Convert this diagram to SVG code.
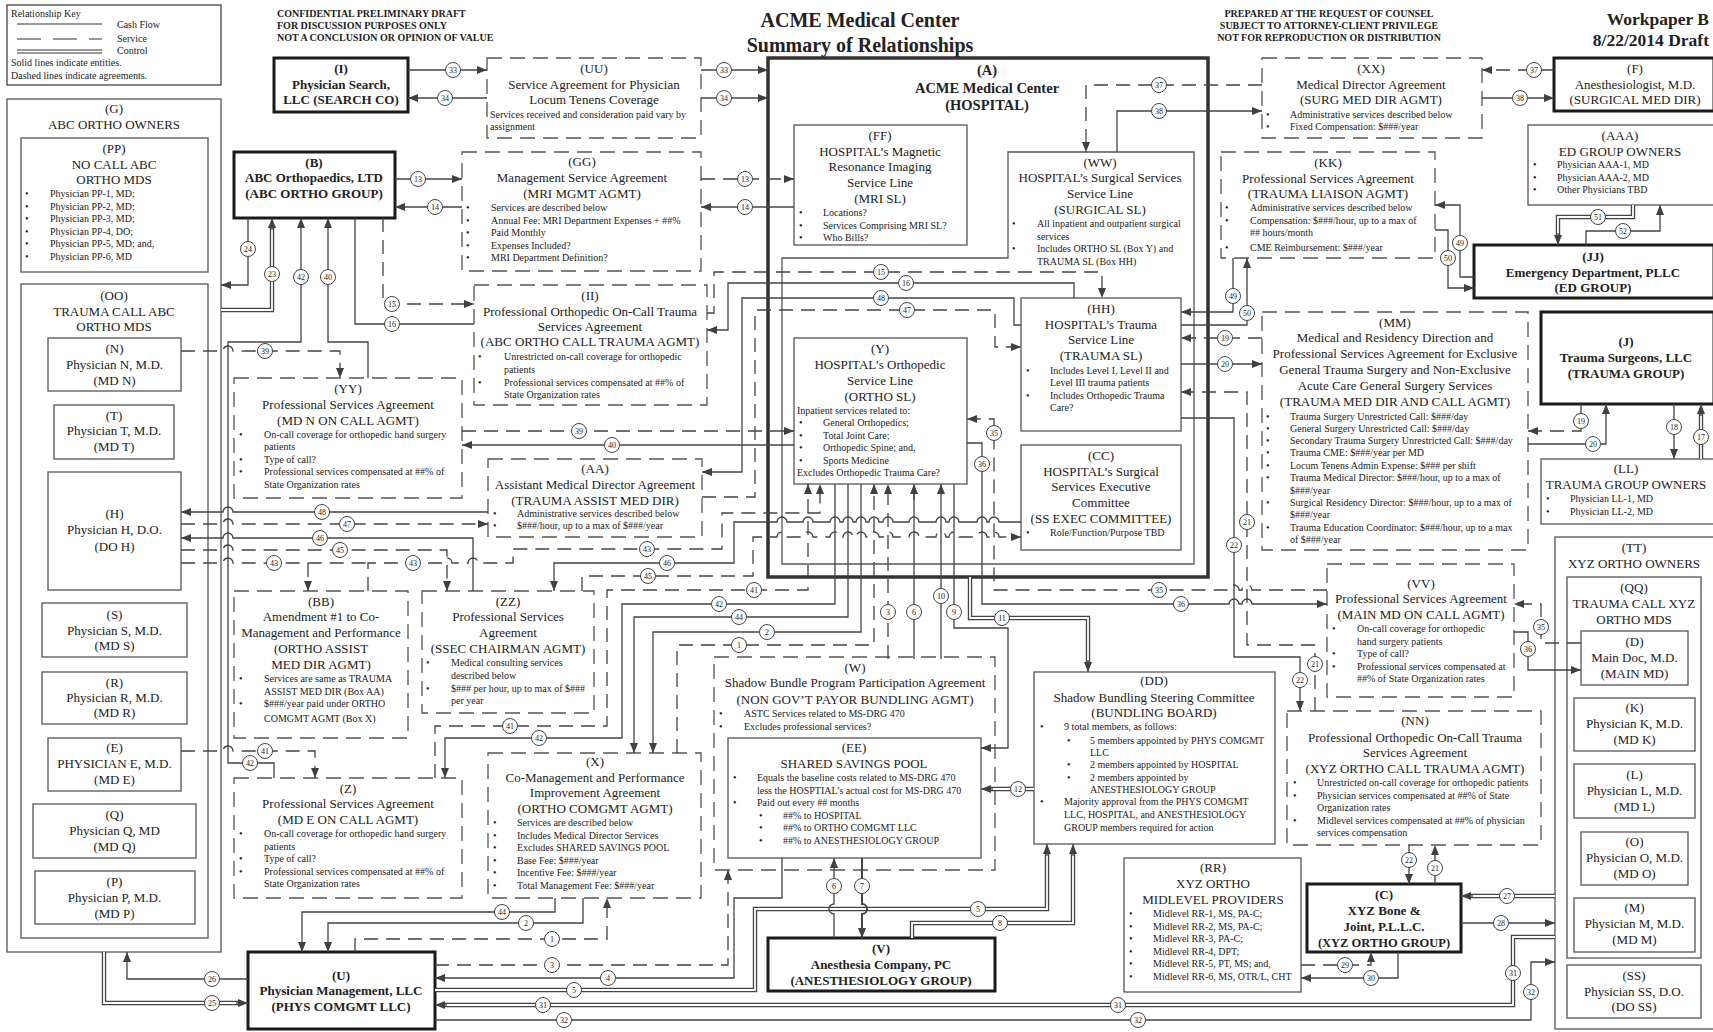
<svg xmlns="http://www.w3.org/2000/svg" width="1713" height="1032" viewBox="0 0 1713 1032">
<style>
text{font-family:"Liberation Serif","Times New Roman",serif;fill:#222}
.t{font-size:13px;text-anchor:middle}
.tb{font-size:13px;font-weight:bold;text-anchor:middle}
.b{font-size:10px}
.h{font-size:10px;font-weight:bold}
.n{fill:#fff;stroke:#555;stroke-width:1.3}
.dn{fill:#fff;stroke:#555;stroke-width:1.3;stroke-dasharray:15 8}
.en{fill:#fff;stroke:#1a1a1a;stroke-width:3}
.s{fill:none;stroke:#444;stroke-width:1.3}
.d{fill:none;stroke:#444;stroke-width:1.3;stroke-dasharray:14 8}
.c{fill:none;stroke:#444;stroke-width:4.4}
.ci{fill:none;stroke:#fff;stroke-width:1.8}
.a{marker-end:url(#ar)}
.lc{fill:#fff;stroke:#444;stroke-width:1}
.ln{font-size:8px;text-anchor:middle}
</style>
<defs>
<marker id="ar" markerWidth="10" markerHeight="8" refX="10" refY="4" orient="auto" markerUnits="userSpaceOnUse"><path d="M0,0 L10,4 L0,8 z" fill="#404040"/></marker>
</defs>
<rect x="0" y="0" width="1713" height="1032" fill="#fff"/>

<g id="key">
<rect x="7" y="5" width="214" height="80" fill="#fff" stroke="#333" stroke-width="1.2"/>
<text class="b" x="11" y="17">Relationship Key</text>
<line x1="17" y1="24" x2="102" y2="24" stroke="#333" stroke-width="1"/>
<line x1="17" y1="39" x2="102" y2="39" stroke="#333" stroke-width="1" stroke-dasharray="24 12"/>
<line x1="17" y1="50" x2="102" y2="50" stroke="#333" stroke-width="1"/>
<line x1="17" y1="53" x2="102" y2="53" stroke="#333" stroke-width="1"/>
<text class="b" x="117" y="28">Cash Flow</text>
<text class="b" x="117" y="42">Service</text>
<text class="b" x="117" y="54">Control</text>
<text class="b" x="11" y="66">Solid lines indicate entities.</text>
<text class="b" x="11" y="79">Dashed lines indicate agreements.</text>
</g>

<g id="header">
<text class="h" x="277" y="17">CONFIDENTIAL PRELIMINARY DRAFT</text>
<text class="h" x="277" y="29">FOR DISCUSSION PURPOSES ONLY</text>
<text class="h" x="277" y="41">NOT A CONCLUSION OR OPINION OF VALUE</text>
<text x="860" y="27" style="font-size:20px;font-weight:bold;text-anchor:middle">ACME Medical Center</text>
<text x="860" y="52" style="font-size:20px;font-weight:bold;text-anchor:middle">Summary of Relationships</text>
<text class="h" x="1329" y="17" text-anchor="middle">PREPARED AT THE REQUEST OF COUNSEL</text>
<text class="h" x="1329" y="29" text-anchor="middle">SUBJECT TO ATTORNEY-CLIENT PRIVILEGE</text>
<text class="h" x="1329" y="41" text-anchor="middle">NOT FOR REPRODUCTION OR DISTRIBUTION</text>
<text x="1709" y="25" style="font-size:17.5px;font-weight:bold;text-anchor:end">Workpaper B</text>
<text x="1709" y="46" style="font-size:17.5px;font-weight:bold;text-anchor:end">8/22/2014 Draft</text>
</g>

<g id="node-G"><rect class="n" x="7" y="99" width="214" height="853"/>
<text class="t" x="114" y="113">(G)</text><text class="t" x="114" y="129">ABC ORTHO OWNERS</text></g>
<g id="node-PP"><rect class="n" x="21" y="138" width="187" height="134"/>
<text class="t" x="114" y="153">(PP)</text><text class="t" x="114" y="169">NO CALL ABC</text><text class="t" x="114" y="184">ORTHO MDS</text>
<text class="b" x="25" y="197">•</text><text class="b" x="50" y="197">Physician PP-1, MD;</text>
<text class="b" x="25" y="209.5">•</text><text class="b" x="50" y="209.5">Physician PP-2, MD;</text>
<text class="b" x="25" y="222">•</text><text class="b" x="50" y="222">Physician PP-3, MD;</text>
<text class="b" x="25" y="234.5">•</text><text class="b" x="50" y="234.5">Physician PP-4, DO;</text>
<text class="b" x="25" y="247">•</text><text class="b" x="50" y="247">Physician PP-5, MD; and,</text>
<text class="b" x="25" y="259.5">•</text><text class="b" x="50" y="259.5">Physician PP-6, MD</text></g>
<g id="node-OO"><rect class="n" x="21" y="284" width="187" height="654"/>
<text class="t" x="114" y="300">(OO)</text><text class="t" x="114" y="316">TRAUMA CALL ABC</text><text class="t" x="114" y="331">ORTHO MDS</text></g>
<g id="node-N"><rect class="n" x="48" y="338" width="133" height="53"/>
<text class="t" x="114.5" y="353">(N)</text><text class="t" x="114.5" y="369">Physician N, M.D.</text><text class="t" x="114.5" y="385">(MD N)</text></g>
<g id="node-T"><rect class="n" x="54" y="405" width="120" height="54"/>
<text class="t" x="114" y="420">(T)</text><text class="t" x="114" y="435">Physician T, M.D.</text><text class="t" x="114" y="451">(MD T)</text></g>
<g id="node-H"><rect class="n" x="48" y="472" width="133" height="118"/>
<text class="t" x="114.5" y="518">(H)</text><text class="t" x="114.5" y="534">Physician H, D.O.</text><text class="t" x="114.5" y="551">(DO H)</text></g>
<g id="node-S"><rect class="n" x="42" y="603" width="145" height="54"/>
<text class="t" x="114.5" y="619">(S)</text><text class="t" x="114.5" y="635">Physician S, M.D.</text><text class="t" x="114.5" y="650">(MD S)</text></g>
<g id="node-R"><rect class="n" x="42" y="672" width="145" height="52"/>
<text class="t" x="114.5" y="687">(R)</text><text class="t" x="114.5" y="702">Physician R, M.D.</text><text class="t" x="114.5" y="717">(MD R)</text></g>
<g id="node-E"><rect class="n" x="48" y="738" width="133" height="53"/>
<text class="t" x="114.5" y="752">(E)</text><text class="t" x="114.5" y="768">PHYSICIAN E, M.D.</text><text class="t" x="114.5" y="784">(MD E)</text></g>
<g id="node-Q"><rect class="n" x="33" y="804" width="163" height="54"/>
<text class="t" x="114.5" y="819">(Q)</text><text class="t" x="114.5" y="835">Physician Q, MD</text><text class="t" x="114.5" y="851">(MD Q)</text></g>
<g id="node-P"><rect class="n" x="35" y="871" width="160" height="53"/>
<text class="t" x="114.5" y="886">(P)</text><text class="t" x="114.5" y="902">Physician P, M.D.</text><text class="t" x="114.5" y="918">(MD P)</text></g>

<g id="node-I"><rect class="en" x="274" y="58" width="134" height="54"/>
<text class="tb" x="341" y="73">(I)</text><text class="tb" x="341" y="89">Physician Search,</text><text class="tb" x="341" y="104">LLC (SEARCH CO)</text></g>
<g id="node-B"><rect class="en" x="234" y="152" width="161" height="66"/>
<text class="tb" x="314" y="167">(B)</text><text class="tb" x="314" y="182">ABC Orthopaedics, LTD</text><text class="tb" x="314" y="198">(ABC ORTHO GROUP)</text></g>
<g id="node-U"><rect class="en" x="248" y="952" width="187" height="77"/>
<text class="tb" x="341" y="980">(U)</text><text class="tb" x="341" y="995">Physician Management, LLC</text><text class="tb" x="341" y="1011">(PHYS COMGMT LLC)</text></g>

<g id="node-UU"><rect class="dn" x="487" y="58" width="214" height="80"/>
<text class="t" x="594" y="73">(UU)</text><text class="t" x="594" y="89">Service Agreement for Physician</text><text class="t" x="594" y="104">Locum Tenens Coverage</text>
<text class="b" x="490" y="118">Services received and consideration paid vary by</text><text class="b" x="490" y="130">assignment</text></g>
<g id="node-GG"><rect class="dn" x="462" y="152" width="239" height="119"/>
<text class="t" x="582" y="166">(GG)</text><text class="t" x="582" y="182">Management Service Agreement</text><text class="t" x="582" y="198">(MRI MGMT AGMT)</text>
<text class="b" x="466" y="211">•</text><text class="b" x="491" y="211">Services are described below</text>
<text class="b" x="466" y="223.5">•</text><text class="b" x="491" y="223.5">Annual Fee: MRI Department Expenses + ##%</text>
<text class="b" x="466" y="236">•</text><text class="b" x="491" y="236">Paid Monthly</text>
<text class="b" x="466" y="248.5">•</text><text class="b" x="491" y="248.5">Expenses Included?</text>
<text class="b" x="466" y="261">•</text><text class="b" x="491" y="261">MRI Department Definition?</text></g>
<g id="node-II"><rect class="dn" x="474" y="285" width="233" height="120"/>
<text class="t" x="590" y="300">(II)</text><text class="t" x="590" y="316">Professional Orthopedic On-Call Trauma</text><text class="t" x="590" y="331">Services Agreement</text><text class="t" x="590" y="346">(ABC ORTHO CALL TRAUMA AGMT)</text>
<text class="b" x="478" y="360">•</text><text class="b" x="504" y="360">Unrestricted on-call coverage for orthopedic</text><text class="b" x="504" y="373">patients</text>
<text class="b" x="478" y="386">•</text><text class="b" x="504" y="386">Professional services compensated at ##% of</text><text class="b" x="504" y="398">State Organization rates</text></g>
<g id="node-YY"><rect class="dn" x="234" y="378" width="228" height="120"/>
<text class="t" x="348" y="393">(YY)</text><text class="t" x="348" y="409">Professional Services Agreement</text><text class="t" x="348" y="425">(MD N ON CALL AGMT)</text>
<text class="b" x="239" y="438">•</text><text class="b" x="264" y="438">On-call coverage for orthopedic hand surgery</text><text class="b" x="264" y="450">patients</text>
<text class="b" x="239" y="463">•</text><text class="b" x="264" y="463">Type of call?</text>
<text class="b" x="239" y="475">•</text><text class="b" x="264" y="475">Professional services compensated at ##% of</text><text class="b" x="264" y="488">State Organization rates</text></g>
<g id="node-AA"><rect class="dn" x="488" y="459" width="214" height="78"/>
<text class="t" x="595" y="473">(AA)</text><text class="t" x="595" y="489">Assistant Medical Director Agreement</text><text class="t" x="595" y="505">(TRAUMA ASSIST MED DIR)</text>
<text class="b" x="493" y="517">•</text><text class="b" x="517" y="517">Administrative services described below</text>
<text class="b" x="493" y="529">•</text><text class="b" x="517" y="529">$###/hour, up to a max of $###/year</text></g>
<g id="node-BB"><rect class="dn" x="234" y="591" width="174" height="147"/>
<text class="t" x="321" y="606">(BB)</text><text class="t" x="321" y="621">Amendment #1 to Co-</text><text class="t" x="321" y="637">Management and Performance</text><text class="t" x="321" y="653">(ORTHO ASSIST</text><text class="t" x="321" y="669">MED DIR AGMT)</text>
<text class="b" x="239" y="682">•</text><text class="b" x="264" y="682">Services are same as TRAUMA</text><text class="b" x="264" y="695">ASSIST MED DIR (Box AA)</text>
<text class="b" x="239" y="707">•</text><text class="b" x="264" y="707">$###/year paid under ORTHO</text><text class="b" x="264" y="722">COMGMT AGMT (Box X)</text></g>
<g id="node-ZZ"><rect class="dn" x="422" y="591" width="172" height="122"/>
<text class="t" x="508" y="606">(ZZ)</text><text class="t" x="508" y="621">Professional Services</text><text class="t" x="508" y="637">Agreement</text><text class="t" x="508" y="653">(SSEC CHAIRMAN AGMT)</text>
<text class="b" x="426" y="666">•</text><text class="b" x="451" y="666">Medical consulting services</text><text class="b" x="451" y="679">described below</text>
<text class="b" x="426" y="692">•</text><text class="b" x="451" y="692">$### per hour, up to max of $###</text><text class="b" x="451" y="704">per year</text></g>
<g id="node-Z"><rect class="dn" x="234" y="778" width="228" height="120"/>
<text class="t" x="348" y="793">(Z)</text><text class="t" x="348" y="808">Professional Services Agreement</text><text class="t" x="348" y="824">(MD E ON CALL AGMT)</text>
<text class="b" x="239" y="837">•</text><text class="b" x="264" y="837">On-call coverage for orthopedic hand surgery</text><text class="b" x="264" y="850">patients</text>
<text class="b" x="239" y="862">•</text><text class="b" x="264" y="862">Type of call?</text>
<text class="b" x="239" y="875">•</text><text class="b" x="264" y="875">Professional services compensated at ##% of</text><text class="b" x="264" y="887">State Organization rates</text></g>
<g id="node-X"><rect class="dn" x="488" y="753" width="213" height="145"/>
<text class="t" x="595" y="766">(X)</text><text class="t" x="595" y="782">Co-Management and Performance</text><text class="t" x="595" y="797">Improvement Agreement</text><text class="t" x="595" y="813">(ORTHO COMGMT AGMT)</text>
<text class="b" x="493" y="826">•</text><text class="b" x="517" y="826">Services are described below</text>
<text class="b" x="493" y="839">•</text><text class="b" x="517" y="839">Includes Medical Director Services</text>
<text class="b" x="493" y="851">•</text><text class="b" x="517" y="851">Excludes SHARED SAVINGS POOL</text>
<text class="b" x="493" y="864">•</text><text class="b" x="517" y="864">Base Fee: $###/year</text>
<text class="b" x="493" y="876">•</text><text class="b" x="517" y="876">Incentive Fee: $###/year</text>
<text class="b" x="493" y="889">•</text><text class="b" x="517" y="889">Total Management Fee: $###/year</text></g>

<g id="node-A"><rect x="768" y="58" width="440" height="519" fill="#fff" stroke="#333" stroke-width="3.5"/>
<text x="987" y="75" style="font-size:14.5px;font-weight:bold;text-anchor:middle">(A)</text>
<text x="987" y="93" style="font-size:14.5px;font-weight:bold;text-anchor:middle">ACME Medical Center</text>
<text x="987" y="110" style="font-size:14.5px;font-weight:bold;text-anchor:middle">(HOSPITAL)</text></g>
<g id="node-FF"><rect class="n" x="794" y="125" width="173" height="120"/>
<text class="t" x="880" y="140">(FF)</text><text class="t" x="880" y="156">HOSPITAL&#8217;s Magnetic</text><text class="t" x="880" y="171">Resonance Imaging</text><text class="t" x="880" y="187">Service Line</text><text class="t" x="880" y="203">(MRI SL)</text>
<text class="b" x="799" y="216">•</text><text class="b" x="823" y="216">Locations?</text>
<text class="b" x="799" y="229">•</text><text class="b" x="823" y="229">Services Comprising MRI SL?</text>
<text class="b" x="799" y="241">•</text><text class="b" x="823" y="241">Who Bills?</text></g>
<g id="node-WW"><polygon class="n" points="1008,152 1194,152 1194,564 782,564 782,258 1008,258"/>
<text class="t" x="1100" y="167">(WW)</text><text class="t" x="1100" y="182">HOSPITAL&#8217;s Surgical Services</text><text class="t" x="1100" y="198">Service Line</text><text class="t" x="1100" y="214">(SURGICAL SL)</text>
<text class="b" x="1012" y="227">•</text><text class="b" x="1037" y="227">All inpatient and outpatient surgical</text><text class="b" x="1037" y="240">services</text>
<text class="b" x="1012" y="252">•</text><text class="b" x="1037" y="252">Includes ORTHO SL (Box Y) and</text><text class="b" x="1037" y="265">TRAUMA SL (Box HH)</text></g>
<g id="node-Y"><rect class="n" x="794" y="338" width="173" height="146"/>
<text class="t" x="880" y="353">(Y)</text><text class="t" x="880" y="369">HOSPITAL&#8217;s Orthopedic</text><text class="t" x="880" y="385">Service Line</text><text class="t" x="880" y="401">(ORTHO SL)</text>
<text class="b" x="797" y="414">Inpatient services related to:</text>
<text class="b" x="799" y="426">•</text><text class="b" x="823" y="426">General Orthopedics;</text>
<text class="b" x="799" y="439">•</text><text class="b" x="823" y="439">Total Joint Care;</text>
<text class="b" x="799" y="451">•</text><text class="b" x="823" y="451">Orthopedic Spine; and,</text>
<text class="b" x="799" y="464">•</text><text class="b" x="823" y="464">Sports Medicine</text>
<text class="b" x="797" y="476">Excludes Orthopedic Trauma Care?</text></g>
<g id="node-HH"><rect class="n" x="1021" y="298" width="160" height="133"/>
<text class="t" x="1101" y="313">(HH)</text><text class="t" x="1101" y="329">HOSPITAL&#8217;s Trauma</text><text class="t" x="1101" y="344">Service Line</text><text class="t" x="1101" y="360">(TRAUMA SL)</text>
<text class="b" x="1026" y="374">•</text><text class="b" x="1050" y="374">Includes Level I, Level II and</text><text class="b" x="1050" y="386">Level III trauma patients</text>
<text class="b" x="1026" y="399">•</text><text class="b" x="1050" y="399">Includes Orthopedic Trauma</text><text class="b" x="1050" y="411">Care?</text></g>
<g id="node-CC"><rect class="n" x="1021" y="445" width="160" height="105"/>
<text class="t" x="1101" y="460">(CC)</text><text class="t" x="1101" y="476">HOSPITAL&#8217;s Surgical</text><text class="t" x="1101" y="491">Services Executive</text><text class="t" x="1101" y="507">Committee</text><text class="t" x="1101" y="523">(SS EXEC COMMITTEE)</text>
<text class="b" x="1026" y="536">•</text><text class="b" x="1050" y="536">Role/Function/Purpose TBD</text></g>

<g id="node-XX"><rect class="dn" x="1262" y="58" width="220" height="80"/>
<text class="t" x="1371" y="73">(XX)</text><text class="t" x="1371" y="89">Medical Director Agreement</text><text class="t" x="1371" y="104">(SURG MED DIR AGMT)</text>
<text class="b" x="1266" y="118">•</text><text class="b" x="1290" y="118">Administrative services described below</text>
<text class="b" x="1266" y="130">•</text><text class="b" x="1290" y="130">Fixed Compensation: $###/year</text></g>
<g id="node-F"><rect class="en" x="1554" y="58" width="160" height="53"/>
<text class="t" x="1635" y="73">(F)</text><text class="t" x="1635" y="89">Anesthesiologist, M.D.</text><text class="t" x="1635" y="104">(SURGICAL MED DIR)</text></g>
<g id="node-AAA"><rect class="n" x="1528" y="125" width="186" height="80"/>
<text class="t" x="1620" y="140">(AAA)</text><text class="t" x="1620" y="156">ED GROUP OWNERS</text>
<text class="b" x="1533" y="168">•</text><text class="b" x="1557" y="168">Physician AAA-1, MD</text>
<text class="b" x="1533" y="181">•</text><text class="b" x="1557" y="181">Physician AAA-2, MD</text>
<text class="b" x="1533" y="193">•</text><text class="b" x="1557" y="193">Other Physicians TBD</text></g>
<g id="node-KK"><rect class="dn" x="1221" y="152" width="214" height="106"/>
<text class="t" x="1328" y="167">(KK)</text><text class="t" x="1328" y="183">Professional Services Agreement</text><text class="t" x="1328" y="198">(TRAUMA LIAISON AGMT)</text>
<text class="b" x="1225" y="211">•</text><text class="b" x="1250" y="211">Administrative services described below</text>
<text class="b" x="1225" y="224">•</text><text class="b" x="1250" y="224">Compensation: $###/hour, up to a max of</text><text class="b" x="1250" y="236">## hours/month</text>
<text class="b" x="1225" y="251">•</text><text class="b" x="1250" y="251">CME Reimbursement: $###/year</text></g>
<g id="node-JJ"><rect class="en" x="1474" y="245" width="240" height="53"/>
<text class="tb" x="1593" y="261">(JJ)</text><text class="tb" x="1593" y="277">Emergency Department, PLLC</text><text class="tb" x="1593" y="292">(ED GROUP)</text></g>
<g id="node-MM"><rect class="dn" x="1262" y="312" width="266" height="238"/>
<text class="t" x="1395" y="327">(MM)</text><text class="t" x="1395" y="342">Medical and Residency Direction and</text><text class="t" x="1395" y="358">Professional Services Agreement for Exclusive</text><text class="t" x="1395" y="374">General Trauma Surgery and Non-Exclusive</text><text class="t" x="1395" y="390">Acute Care General Surgery Services</text><text class="t" x="1395" y="406">(TRAUMA MED DIR AND CALL AGMT)</text>
<text class="b" x="1266" y="420">•</text><text class="b" x="1290" y="420">Trauma Surgery Unrestricted Call: $###/day</text>
<text class="b" x="1266" y="432">•</text><text class="b" x="1290" y="432">General Surgery Unrestricted Call: $###/day</text>
<text class="b" x="1266" y="444">•</text><text class="b" x="1290" y="444">Secondary Trauma Surgery Unrestricted Call: $###/day</text>
<text class="b" x="1266" y="456">•</text><text class="b" x="1290" y="456">Trauma CME: $###/year per MD</text>
<text class="b" x="1266" y="469">•</text><text class="b" x="1290" y="469">Locum Tenens Admin Expense: $### per shift</text>
<text class="b" x="1266" y="481">•</text><text class="b" x="1290" y="481">Trauma Medical Director: $###/hour, up to a max of</text><text class="b" x="1290" y="494">$###/year</text>
<text class="b" x="1266" y="506">•</text><text class="b" x="1290" y="506">Surgical Residency Director: $###/hour, up to a max of</text><text class="b" x="1290" y="518">$###/year</text>
<text class="b" x="1266" y="531">•</text><text class="b" x="1290" y="531">Trauma Education Coordinator: $###/hour, up to a max</text><text class="b" x="1290" y="543">of $###/year</text></g>
<g id="node-J"><rect class="en" x="1541" y="312" width="173" height="92"/>
<text class="tb" x="1626" y="346">(J)</text><text class="tb" x="1626" y="362">Trauma Surgeons, LLC</text><text class="tb" x="1626" y="378">(TRAUMA GROUP)</text></g>
<g id="node-LL"><rect class="n" x="1541" y="459" width="173" height="65"/>
<text class="t" x="1626" y="473">(LL)</text><text class="t" x="1626" y="489">TRAUMA GROUP OWNERS</text>
<text class="b" x="1546" y="502">•</text><text class="b" x="1570" y="502">Physician LL-1, MD</text>
<text class="b" x="1546" y="515">•</text><text class="b" x="1570" y="515">Physician LL-2, MD</text></g>
<g id="node-TT"><rect class="n" x="1555" y="537" width="159" height="492"/>
<text class="t" x="1634" y="552">(TT)</text><text class="t" x="1634" y="568">XYZ ORTHO OWNERS</text></g>
<g id="node-QQ"><rect class="n" x="1567" y="577" width="134" height="381"/>
<text class="t" x="1634" y="592">(QQ)</text><text class="t" x="1634" y="608">TRAUMA CALL XYZ</text><text class="t" x="1634" y="624">ORTHO MDS</text></g>
<g id="node-D"><rect class="n" x="1581" y="631" width="107" height="54"/>
<text class="t" x="1634.5" y="646">(D)</text><text class="t" x="1634.5" y="662">Main Doc, M.D.</text><text class="t" x="1634.5" y="678">(MAIN MD)</text></g>
<g id="node-K"><rect class="n" x="1574" y="698" width="121" height="53"/>
<text class="t" x="1634.5" y="712">(K)</text><text class="t" x="1634.5" y="728">Physician K, M.D.</text><text class="t" x="1634.5" y="744">(MD K)</text></g>
<g id="node-L"><rect class="n" x="1574" y="764" width="121" height="54"/>
<text class="t" x="1634.5" y="779">(L)</text><text class="t" x="1634.5" y="795">Physician L, M.D.</text><text class="t" x="1634.5" y="811">(MD L)</text></g>
<g id="node-O"><rect class="n" x="1581" y="832" width="107" height="53"/>
<text class="t" x="1634.5" y="846">(O)</text><text class="t" x="1634.5" y="862">Physician O, M.D.</text><text class="t" x="1634.5" y="878">(MD O)</text></g>
<g id="node-M"><rect class="n" x="1574" y="898" width="121" height="54"/>
<text class="t" x="1634.5" y="912">(M)</text><text class="t" x="1634.5" y="928">Physician M, M.D.</text><text class="t" x="1634.5" y="944">(MD M)</text></g>
<g id="node-SS"><rect class="n" x="1567" y="965" width="134" height="53"/>
<text class="t" x="1634" y="980">(SS)</text><text class="t" x="1634" y="996">Physician SS, D.O.</text><text class="t" x="1634" y="1011">(DO SS)</text></g>
<g id="node-VV"><rect class="dn" x="1327" y="564" width="187" height="133"/>
<text class="t" x="1421" y="588">(VV)</text><text class="t" x="1421" y="603">Professional Services Agreement</text><text class="t" x="1421" y="619">(MAIN MD ON CALL AGMT)</text>
<text class="b" x="1332" y="632">•</text><text class="b" x="1357" y="632">On-call coverage for orthopedic</text><text class="b" x="1357" y="645">hand surgery patients</text>
<text class="b" x="1332" y="657">•</text><text class="b" x="1357" y="657">Type of call?</text>
<text class="b" x="1332" y="670">•</text><text class="b" x="1357" y="670">Professional services compensated at</text><text class="b" x="1357" y="682">##% of State Organization rates</text></g>
<g id="node-NN"><rect class="dn" x="1287" y="711" width="254" height="134"/>
<text class="t" x="1415" y="725">(NN)</text><text class="t" x="1415" y="742">Professional Orthopedic On-Call Trauma</text><text class="t" x="1415" y="757">Services Agreement</text><text class="t" x="1415" y="773">(XYZ ORTHO CALL TRAUMA AGMT)</text>
<text class="b" x="1293" y="786">•</text><text class="b" x="1317" y="786">Unrestricted on-call coverage for orthopedic patients</text>
<text class="b" x="1293" y="799">•</text><text class="b" x="1317" y="799">Physician services compensated at ##% of State</text><text class="b" x="1317" y="811">Organization rates</text>
<text class="b" x="1293" y="824">•</text><text class="b" x="1317" y="824">Midlevel services compensated at ##% of physician</text><text class="b" x="1317" y="836">services compensation</text></g>
<g id="node-C"><rect class="en" x="1307" y="884" width="154" height="68"/>
<text class="tb" x="1384" y="899">(C)</text><text class="tb" x="1384" y="915">XYZ Bone &amp;</text><text class="tb" x="1384" y="931">Joint, P.L.L.C.</text><text class="tb" x="1384" y="947" style="font-size:12.5px">(XYZ ORTHO GROUP)</text></g>
<g id="node-RR"><rect class="n" x="1124" y="858" width="177" height="134"/>
<text class="t" x="1213" y="872">(RR)</text><text class="t" x="1213" y="888">XYZ ORTHO</text><text class="t" x="1213" y="904">MIDLEVEL PROVIDERS</text>
<text class="b" x="1129" y="917">•</text><text class="b" x="1153" y="917">Midlevel RR-1, MS, PA-C;</text>
<text class="b" x="1129" y="930">•</text><text class="b" x="1153" y="930">Midlevel RR-2, MS, PA-C;</text>
<text class="b" x="1129" y="942">•</text><text class="b" x="1153" y="942">Midlevel RR-3, PA-C;</text>
<text class="b" x="1129" y="955">•</text><text class="b" x="1153" y="955">Midlevel RR-4, DPT;</text>
<text class="b" x="1129" y="967">•</text><text class="b" x="1153" y="967">Midlevel RR-5, PT, MS;  and,</text>
<text class="b" x="1129" y="980">•</text><text class="b" x="1153" y="980">Midlevel RR-6, MS, OTR/L, CHT</text></g>
<g id="node-DD"><rect class="n" x="1034" y="672" width="241" height="172"/>
<text class="t" x="1154" y="685">(DD)</text><text class="t" x="1154" y="702">Shadow Bundling Steering Committee</text><text class="t" x="1154" y="717">(BUNDLING BOARD)</text>
<text class="b" x="1040" y="730">•</text><text class="b" x="1064" y="730">9 total members, as follows:</text>
<text class="b" x="1067" y="744">•</text><text class="b" x="1090" y="744">5 members appointed by PHYS COMGMT</text><text class="b" x="1090" y="756">LLC</text>
<text class="b" x="1067" y="768">•</text><text class="b" x="1090" y="768">2 members appointed by HOSPITAL</text>
<text class="b" x="1067" y="781">•</text><text class="b" x="1090" y="781">2 members appointed by</text><text class="b" x="1090" y="793">ANESTHESIOLOGY GROUP</text>
<text class="b" x="1040" y="805">•</text><text class="b" x="1064" y="805">Majority approval from the PHYS COMGMT</text><text class="b" x="1064" y="818">LLC, HOSPITAL, and ANESTHESIOLOGY</text><text class="b" x="1064" y="831">GROUP members required for action</text></g>
<g id="node-W"><rect class="dn" x="714" y="657" width="281" height="213"/>
<text class="t" x="855" y="672">(W)</text><text class="t" x="855" y="687">Shadow Bundle Program Participation Agreement</text><text class="t" x="855" y="704">(NON GOV&#8217;T PAYOR BUNDLING AGMT)</text>
<text class="b" x="719" y="717">•</text><text class="b" x="744" y="717">ASTC Services related to MS-DRG 470</text>
<text class="b" x="719" y="730">•</text><text class="b" x="744" y="730">Excludes professional services?</text></g>
<g id="node-EE"><rect class="n" x="728" y="738" width="253" height="120"/>
<text class="t" x="854" y="752">(EE)</text><text class="t" x="854" y="768">SHARED SAVINGS POOL</text>
<text class="b" x="733" y="781">•</text><text class="b" x="757" y="781">Equals the baseline costs related to MS-DRG 470</text><text class="b" x="757" y="794">less the HOSPTIAL&#8217;s actual cost for MS-DRG 470</text>
<text class="b" x="733" y="806">•</text><text class="b" x="757" y="806">Paid out every ## months</text>
<text class="b" x="759" y="819">•</text><text class="b" x="783" y="819">##% to HOSPITAL</text>
<text class="b" x="759" y="831">•</text><text class="b" x="783" y="831">##% to ORTHO COMGMT LLC</text>
<text class="b" x="759" y="844">•</text><text class="b" x="783" y="844">##% to ANESTHESIOLOGY GROUP</text></g>
<g id="node-V"><rect class="en" x="768" y="938" width="227" height="53"/>
<text class="tb" x="881" y="953">(V)</text><text class="tb" x="881" y="969">Anesthesia Company, PC</text><text class="tb" x="881" y="985">(ANESTHESIOLOGY GROUP)</text></g>

<g id="connectors">
<path class="s a" d="M408,70 H487"/>
<path class="s a" d="M701,70 H768"/>
<path class="s a" d="M487,98 H408"/>
<path class="s a" d="M701,98 H768"/>
<path class="s a" d="M395,179 H462"/>
<path class="d a" d="M701,179 H794"/>
<path class="s a" d="M794,207 H701"/>
<path class="s a" d="M462,207 H395"/>
<path class="s a" d="M248,218 V285 H221"/>
<path class="c" d="M221,310 H272 V225"/><path class="ci" d="M221,310 H272 V225"/><path class="s a" d="M272,230 V218"/>
<path class="s a" d="M274,778 V763 H228 V342 H301 V218"/>
<path class="s a" d="M368,378 V342 H328 V218"/>
<path class="d a" d="M181,351 H223 a5,5 0 0 1 10,0 H340 V378"/>
<path class="d a" d="M462,431 H794"/>
<path class="s a" d="M794,445 H462"/>
<path class="d a" d="M383,218 V304 H474"/>
<path class="d a" d="M707,313 H714 V272 H1102 V298"/>
<path class="s" d="M355,218 V324 H474"/>
<path class="s a" d="M1074,298 V283 H728 V330 H707"/>
<path class="s a" d="M1021,325 H1014 V298 H742 V472 H702"/>
<path class="s a" d="M488,512 H233 a5,5 0 0 0 -10,0 H181"/>
<path class="d a" d="M181,524 H223 a5,5 0 0 1 10,0 H488"/>
<path class="d a" d="M702,497 H755 V310 H995 V347 H1021"/>
<path class="s a" d="M1021,522 H999 a5,5 0 0 0 -10,0 H987 a5,5 0 0 0 -10,0 H959 a5,5 0 0 0 -10,0 H946 a5,5 0 0 0 -10,0 H919 a5,5 0 0 0 -10,0 H893 a5,5 0 0 0 -10,0 H879 a5,5 0 0 0 -10,0 H866 a5,5 0 0 0 -10,0 H853 a5,5 0 0 0 -10,0 H840 a5,5 0 0 0 -10,0 H813 a5,5 0 0 0 -10,0 H787 a5,5 0 0 0 -10,0 H734 V563 H554 V591"/>
<path class="s a" d="M473,591 V538 H233 a5,5 0 0 0 -10,0 H181"/>
<path class="d a" d="M582,591 V576 H753 V537 H777 a5,5 0 0 1 10,0 H803 a5,5 0 0 1 10,0 H830 a5,5 0 0 1 10,0 H843 a5,5 0 0 1 10,0 H856 a5,5 0 0 1 10,0 H869 a5,5 0 0 1 10,0 H883 a5,5 0 0 1 10,0 H909 a5,5 0 0 1 10,0 H936 a5,5 0 0 1 10,0 H949 a5,5 0 0 1 10,0 H977 a5,5 0 0 1 10,0 H989 a5,5 0 0 1 10,0 H1021"/>
<path class="d a" d="M181,550 H223 a5,5 0 0 1 10,0 H447 V591"/>
<path class="d" d="M181,563 H223 a5,5 0 0 1 10,0 H368"/>
<path class="d a" d="M308,563 V591"/>
<path class="d a" d="M368,591 V563 H442 a5,5 0 0 1 10,0 H468 a5,5 0 0 1 10,0 H513 V549 H722 V513 H820 V484"/>
<path class="d a" d="M181,751 H223 a5,5 0 0 1 10,0 H315 V778"/>
<path class="d a" d="M435,778 V726 H607 V590 H808 V484"/>
<path class="s a" d="M835,484 V604 H622 V738 H445 V778"/>
<path class="s a" d="M848,484 V617 H634 V753"/>
<path class="s a" d="M861,484 V632 H653 V753"/>
<path class="d a" d="M677,753 V645 H874 V484"/>
<path class="s a" d="M555,898 V912 H302 V952"/>
<path class="s a" d="M583,898 V923 H328 V952"/>
<path class="d a" d="M355,952 V939 H607 V898"/>
<path class="d a" d="M888,659 V484"/>
<path class="d a" d="M435,965 H728 V870"/>
<path class="s a" d="M782,858 V898 H734 V978 H435"/>
<path class="c" d="M435,990 H755 V909 H1047 V851"/><path class="ci" d="M435,990 H755 V909 H1047 V851"/><path class="s a" d="M1047,856 V844"/>
<path class="s a" d="M834,938 V914 a5,5 0 0 1 0,-10 V858"/>
<path class="s" d="M914,659 V494"/><path class="s a" d="M914,500 V484"/>
<path class="s a" d="M862,858 V904 a5,5 0 0 1 0,10 V938" style="stroke-width:2"/>
<path class="c" d="M912,938 V923 H1073 V851"/><path class="ci" d="M912,938 V923 H1073 V851"/><path class="s a" d="M1073,856 V844"/>
<path class="s a" d="M954,484 V628 H1008 V748 H981"/>
<path class="s a" d="M941,659 V484"/>
<path class="c" d="M970,577 V618 H1088 V665"/><path class="ci" d="M970,577 V618 H1088 V665"/><path class="s a" d="M1088,660 V672"/>
<path class="c" d="M1034,789 H988"/><path class="ci" d="M1034,789 H988"/><path class="s a" d="M993,789 H981"/>
<path class="c" d="M1701,459 V411"/><path class="ci" d="M1701,459 V411"/><path class="s a" d="M1701,416 V404"/>
<path class="s a" d="M1674,404 V459"/>
<path class="d a" d="M1262,338 H1181"/>
<path class="d a" d="M1581,404 V431 H1528"/>
<path class="s a" d="M1181,364 H1262"/>
<path class="s a" d="M1528,444 H1606 V404"/>
<path class="d a" d="M1435,884 V845"/>
<path class="d a" d="M1315,711 V645 H1247 V392 H1181"/>
<path class="s a" d="M1181,418 H1234 V657 H1300 V711"/>
<path class="s a" d="M1409,845 V884"/>
<path class="c" d="M104,952 V1003 H241"/><path class="ci" d="M104,952 V1003 H241"/><path class="s a" d="M236,1003 H248"/>
<path class="s a" d="M248,979 H127 V952"/>
<path class="c" d="M1555,896 H1468"/><path class="ci" d="M1555,896 H1468"/><path class="s a" d="M1473,896 H1461"/>
<path class="s a" d="M1461,923 H1555"/>
<path class="d a" d="M1301,965 H1371 V952"/>
<path class="s a" d="M1398,952 V978 H1301"/>
<path class="c" d="M1555,937 H1513 V1005 H442"/><path class="ci" d="M1555,937 H1513 V1005 H442"/><path class="s a" d="M447,1005 H435"/>
<path class="s a" d="M435,1020 H1531 V962 H1555"/>
<path class="d a" d="M1327,590 H1252 a5,5 0 0 0 -10,0 H1239 a5,5 0 0 0 -10,0 H994 V419 H967"/>
<path class="s a" d="M967,443 H982 V604 H1229 a5,5 0 0 1 10,0 H1242 a5,5 0 0 1 10,0 H1327"/>
<path class="d a" d="M1581,643 H1541 V604 H1514"/>
<path class="s a" d="M1514,632 H1528 V670 H1581"/>
<path class="d a" d="M1554,70 H1482"/>
<path class="d a" d="M1262,85 H1086 V152"/>
<path class="s a" d="M1117,152 V111 H1262"/>
<path class="s a" d="M1482,98 H1554"/>
<path class="s a" d="M1233,258 V312 H1181"/>
<path class="s a" d="M1474,277 H1460 V205 H1435"/>
<path class="s a" d="M1181,325 H1247 V258"/>
<path class="s a" d="M1435,230 H1448 V288 H1474"/>
<path class="c" d="M1633,205 V217 H1558 V238"/><path class="ci" d="M1633,205 V217 H1558 V238"/><path class="s a" d="M1558,233 V245"/>
<path class="s a" d="M1586,245 V231 H1660 V205"/>

<g id="labels">
<circle class="lc" cx="453" cy="70" r="7.5"/><text class="ln" x="453" y="73">33</text>
<circle class="lc" cx="724" cy="70" r="7.5"/><text class="ln" x="724" y="73">33</text>
<circle class="lc" cx="445" cy="98" r="7.5"/><text class="ln" x="445" y="101">34</text>
<circle class="lc" cx="724" cy="98" r="7.5"/><text class="ln" x="724" y="101">34</text>
<circle class="lc" cx="418" cy="179" r="7.5"/><text class="ln" x="418" y="182">13</text>
<circle class="lc" cx="745" cy="179" r="7.5"/><text class="ln" x="745" y="182">13</text>
<circle class="lc" cx="435" cy="207" r="7.5"/><text class="ln" x="435" y="210">14</text>
<circle class="lc" cx="745" cy="207" r="7.5"/><text class="ln" x="745" y="210">14</text>
<circle class="lc" cx="248" cy="249" r="7.5"/><text class="ln" x="248" y="252">24</text>
<circle class="lc" cx="272" cy="274" r="7.5"/><text class="ln" x="272" y="277">23</text>
<circle class="lc" cx="301" cy="277" r="7.5"/><text class="ln" x="301" y="280">42</text>
<circle class="lc" cx="328" cy="277" r="7.5"/><text class="ln" x="328" y="280">40</text>
<circle class="lc" cx="392" cy="304" r="7.5"/><text class="ln" x="392" y="307">15</text>
<circle class="lc" cx="881" cy="272" r="7.5"/><text class="ln" x="881" y="275">15</text>
<circle class="lc" cx="392" cy="324" r="7.5"/><text class="ln" x="392" y="327">16</text>
<circle class="lc" cx="906" cy="283" r="7.5"/><text class="ln" x="906" y="286">16</text>
<circle class="lc" cx="881" cy="298" r="7.5"/><text class="ln" x="881" y="301">48</text>
<circle class="lc" cx="907" cy="310" r="7.5"/><text class="ln" x="907" y="313">47</text>
<circle class="lc" cx="1159" cy="85" r="7.5"/><text class="ln" x="1159" y="88">37</text>
<circle class="lc" cx="1534" cy="70" r="7.5"/><text class="ln" x="1534" y="73">37</text>
<circle class="lc" cx="1159" cy="111" r="7.5"/><text class="ln" x="1159" y="114">38</text>
<circle class="lc" cx="1520" cy="98" r="7.5"/><text class="ln" x="1520" y="101">38</text>
<circle class="lc" cx="1233" cy="296" r="7.5"/><text class="ln" x="1233" y="299">49</text>
<circle class="lc" cx="1460" cy="243" r="7.5"/><text class="ln" x="1460" y="246">49</text>
<circle class="lc" cx="1247" cy="313" r="7.5"/><text class="ln" x="1247" y="316">50</text>
<circle class="lc" cx="1448" cy="258" r="7.5"/><text class="ln" x="1448" y="261">50</text>
<circle class="lc" cx="1598" cy="217" r="7.5"/><text class="ln" x="1598" y="220">51</text>
<circle class="lc" cx="1623" cy="231" r="7.5"/><text class="ln" x="1623" y="234">52</text>
<circle class="lc" cx="1225" cy="338" r="7.5"/><text class="ln" x="1225" y="341">19</text>
<circle class="lc" cx="1581" cy="421" r="7.5"/><text class="ln" x="1581" y="424">19</text>
<circle class="lc" cx="1225" cy="364" r="7.5"/><text class="ln" x="1225" y="367">20</text>
<circle class="lc" cx="1593" cy="444" r="7.5"/><text class="ln" x="1593" y="447">20</text>
<circle class="lc" cx="1674" cy="427" r="7.5"/><text class="ln" x="1674" y="430">18</text>
<circle class="lc" cx="1701" cy="437" r="7.5"/><text class="ln" x="1701" y="440">17</text>
<circle class="lc" cx="994" cy="433" r="7.5"/><text class="ln" x="994" y="436">35</text>
<circle class="lc" cx="1159" cy="590" r="7.5"/><text class="ln" x="1159" y="593">35</text>
<circle class="lc" cx="1541" cy="627" r="7.5"/><text class="ln" x="1541" y="630">35</text>
<circle class="lc" cx="982" cy="464" r="7.5"/><text class="ln" x="982" y="467">36</text>
<circle class="lc" cx="1181" cy="604" r="7.5"/><text class="ln" x="1181" y="607">36</text>
<circle class="lc" cx="1528" cy="649" r="7.5"/><text class="ln" x="1528" y="652">36</text>
<circle class="lc" cx="1247" cy="522" r="7.5"/><text class="ln" x="1247" y="525">21</text>
<circle class="lc" cx="1315" cy="664" r="7.5"/><text class="ln" x="1315" y="667">21</text>
<circle class="lc" cx="1435" cy="868" r="7.5"/><text class="ln" x="1435" y="871">21</text>
<circle class="lc" cx="1234" cy="545" r="7.5"/><text class="ln" x="1234" y="548">22</text>
<circle class="lc" cx="1300" cy="680" r="7.5"/><text class="ln" x="1300" y="683">22</text>
<circle class="lc" cx="1409" cy="860" r="7.5"/><text class="ln" x="1409" y="863">22</text>
<circle class="lc" cx="941" cy="596" r="7.5"/><text class="ln" x="941" y="599">10</text>
<circle class="lc" cx="954" cy="612" r="7.5"/><text class="ln" x="954" y="615">9</text>
<circle class="lc" cx="888" cy="612" r="7.5"/><text class="ln" x="888" y="615">3</text>
<circle class="lc" cx="914" cy="612" r="7.5"/><text class="ln" x="914" y="615">6</text>
<circle class="lc" cx="1002" cy="618" r="7.5"/><text class="ln" x="1002" y="621">11</text>
<circle class="lc" cx="265" cy="351" r="7.5"/><text class="ln" x="265" y="354">39</text>
<circle class="lc" cx="579" cy="431" r="7.5"/><text class="ln" x="579" y="434">39</text>
<circle class="lc" cx="612" cy="445" r="7.5"/><text class="ln" x="612" y="448">40</text>
<circle class="lc" cx="322" cy="512" r="7.5"/><text class="ln" x="322" y="515">48</text>
<circle class="lc" cx="347" cy="524" r="7.5"/><text class="ln" x="347" y="527">47</text>
<circle class="lc" cx="320" cy="538" r="7.5"/><text class="ln" x="320" y="541">46</text>
<circle class="lc" cx="340" cy="550" r="7.5"/><text class="ln" x="340" y="553">45</text>
<circle class="lc" cx="274" cy="563" r="7.5"/><text class="ln" x="274" y="566">43</text>
<circle class="lc" cx="413" cy="563" r="7.5"/><text class="ln" x="413" y="566">43</text>
<circle class="lc" cx="647" cy="549" r="7.5"/><text class="ln" x="647" y="552">43</text>
<circle class="lc" cx="667" cy="563" r="7.5"/><text class="ln" x="667" y="566">46</text>
<circle class="lc" cx="648" cy="576" r="7.5"/><text class="ln" x="648" y="579">45</text>
<circle class="lc" cx="754" cy="590" r="7.5"/><text class="ln" x="754" y="593">41</text>
<circle class="lc" cx="265" cy="751" r="7.5"/><text class="ln" x="265" y="754">41</text>
<circle class="lc" cx="510" cy="726" r="7.5"/><text class="ln" x="510" y="729">41</text>
<circle class="lc" cx="719" cy="604" r="7.5"/><text class="ln" x="719" y="607">42</text>
<circle class="lc" cx="250" cy="763" r="7.5"/><text class="ln" x="250" y="766">42</text>
<circle class="lc" cx="539" cy="738" r="7.5"/><text class="ln" x="539" y="741">42</text>
<circle class="lc" cx="739" cy="617" r="7.5"/><text class="ln" x="739" y="620">44</text>
<circle class="lc" cx="502" cy="912" r="7.5"/><text class="ln" x="502" y="915">44</text>
<circle class="lc" cx="767" cy="632" r="7.5"/><text class="ln" x="767" y="635">2</text>
<circle class="lc" cx="526" cy="923" r="7.5"/><text class="ln" x="526" y="926">2</text>
<circle class="lc" cx="739" cy="645" r="7.5"/><text class="ln" x="739" y="648">1</text>
<circle class="lc" cx="552" cy="939" r="7.5"/><text class="ln" x="552" y="942">1</text>
<circle class="lc" cx="552" cy="965" r="7.5"/><text class="ln" x="552" y="968">3</text>
<circle class="lc" cx="608" cy="978" r="7.5"/><text class="ln" x="608" y="981">4</text>
<circle class="lc" cx="574" cy="990" r="7.5"/><text class="ln" x="574" y="993">5</text>
<circle class="lc" cx="978" cy="909" r="7.5"/><text class="ln" x="978" y="912">5</text>
<circle class="lc" cx="543" cy="1005" r="7.5"/><text class="ln" x="543" y="1008">31</text>
<circle class="lc" cx="1118" cy="1005" r="7.5"/><text class="ln" x="1118" y="1008">31</text>
<circle class="lc" cx="1513" cy="973" r="7.5"/><text class="ln" x="1513" y="976">31</text>
<circle class="lc" cx="564" cy="1020" r="7.5"/><text class="ln" x="564" y="1023">32</text>
<circle class="lc" cx="1138" cy="1020" r="7.5"/><text class="ln" x="1138" y="1023">32</text>
<circle class="lc" cx="1531" cy="992" r="7.5"/><text class="ln" x="1531" y="995">32</text>
<circle class="lc" cx="834" cy="886" r="7.5"/><text class="ln" x="834" y="889">6</text>
<circle class="lc" cx="862" cy="886" r="7.5"/><text class="ln" x="862" y="889">7</text>
<circle class="lc" cx="1000" cy="923" r="7.5"/><text class="ln" x="1000" y="926">8</text>
<circle class="lc" cx="1018" cy="789" r="7.5"/><text class="ln" x="1018" y="792">12</text>
<circle class="lc" cx="212" cy="979" r="7.5"/><text class="ln" x="212" y="982">26</text>
<circle class="lc" cx="212" cy="1003" r="7.5"/><text class="ln" x="212" y="1006">25</text>
<circle class="lc" cx="1507" cy="896" r="7.5"/><text class="ln" x="1507" y="899">27</text>
<circle class="lc" cx="1501" cy="923" r="7.5"/><text class="ln" x="1501" y="926">28</text>
<circle class="lc" cx="1345" cy="965" r="7.5"/><text class="ln" x="1345" y="968">29</text>
<circle class="lc" cx="1371" cy="978" r="7.5"/><text class="ln" x="1371" y="981">30</text>
</g>
</g>
</svg>
